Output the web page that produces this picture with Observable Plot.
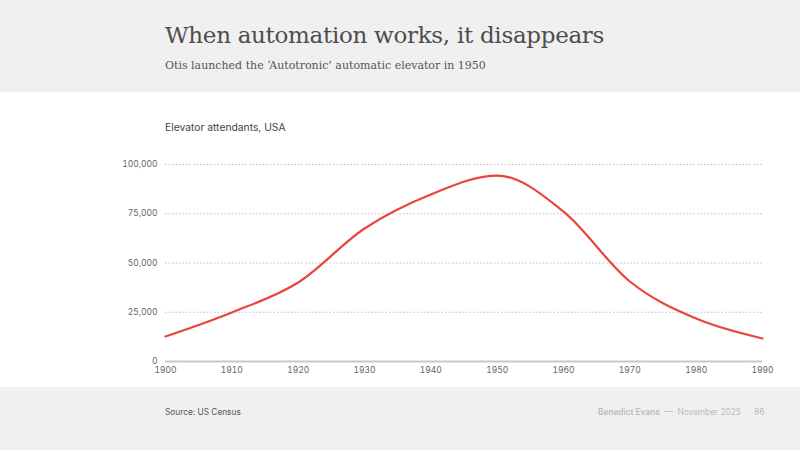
<!DOCTYPE html>
<html>
<head>
<meta charset="utf-8">
<script src="https://cdn.jsdelivr.net/npm/d3@7"></script>
<script src="https://cdn.jsdelivr.net/npm/@observablehq/plot@0.6"></script>
<style>
  html, body { margin: 0; padding: 0; }
  body { width: 800px; height: 450px; position: relative; overflow: hidden; background: #f0f0f0; font-family: Inter, "Noto Sans", sans-serif; }
  #top { position: absolute; left: 0; top: 0; width: 800px; height: 92px; background: #f0f0f0; }
  #title { position: absolute; left: 165px; top: 22px; font-family: "DejaVu Serif", "Liberation Serif", serif; font-size: 23px; color: #4d4d4d; letter-spacing: -0.3px; white-space: nowrap; }
  #subtitle { position: absolute; left: 165px; top: 59px; font-family: "DejaVu Serif", "Liberation Serif", serif; font-size: 11px; color: #555; white-space: nowrap; }
  #panel { position: absolute; left: 0; top: 92px; width: 800px; height: 295px; background: #fff; }
  #ctitle { position: absolute; left: 165px; top: 121px; font-size: 10.3px; color: #444; white-space: nowrap; }
  #chart { position: absolute; left: 0; top: 92px; }
  #source { position: absolute; left: 165px; top: 407px; font-size: 8.3px; color: #555; }
  #credit { position: absolute; left: 598px; top: 407px; font-size: 8.3px; color: #bbb; white-space: nowrap; }
  #credit b { font-weight: 600; }
  #page { position: absolute; left: 754px; top: 407px; font-size: 8.3px; color: #bbb; }
</style>
</head>
<body>
<div id="top"></div>
<div id="title">When automation works, it disappears</div>
<div id="subtitle">Otis launched the ‘Autotronic’ automatic elevator in 1950</div>
<div id="panel"></div>
<div id="ctitle">Elevator attendants, USA</div>
<div id="chart"></div>
<div id="source">Source: US Census</div>
<div id="credit"><b>Benedict Evans</b> &nbsp;—&nbsp; November 2025</div>
<div id="page">86</div>
<script>
const years = [1900, 1910, 1920, 1930, 1940, 1950, 1960, 1970, 1980, 1990];
const attendants = [12700, 24900, 40100, 67500, 84800, 94400, 76100, 40600, 21800, 11700];
const yTicks = [0, 25000, 50000, 75000, 100000];
const xTicks = [1900, 1910, 1920, 1930, 1940, 1950, 1960, 1970, 1980, 1990];

const data = years.map((y, i) => ({year: y, value: attendants[i]}));

const chart = Plot.plot({
  width: 800,
  height: 295,
  marginLeft: 165,
  marginRight: 38,
  marginTop: 72,
  marginBottom: 26,
  style: {fontFamily: "Inter, 'Noto Sans', sans-serif", fontSize: "8.5px", color: "#666", background: "transparent"},
  x: {domain: [1900, 1990], ticks: xTicks, tickFormat: d => String(d), tickSize: 0, tickPadding: 5, label: null},
  y: {domain: [0, 100000], ticks: yTicks, tickFormat: d3.format(","), tickSize: 0, tickPadding: 8, label: null},
  marks: [
    Plot.gridY(yTicks.filter(d => d > 0), {stroke: "#999", strokeOpacity: 0.8, strokeDasharray: "1.5,2", strokeWidth: 0.8}),
    Plot.ruleY([0], {stroke: "#c8c8c8", strokeWidth: 2}),
    Plot.axisX({ticks: xTicks, tickFormat: d => String(d), tickSize: 0, tickPadding: 5, fill: "#666"}),
    Plot.axisY({ticks: yTicks, tickFormat: d3.format(","), tickSize: 0, tickPadding: 8, fill: "#666"}),
    Plot.line(data, {x: "year", y: "value", stroke: "#e8453c", strokeWidth: 2.2, curve: "monotone-x"})
  ]
});
document.getElementById("chart").appendChild(chart);
</script>
</body>
</html>
